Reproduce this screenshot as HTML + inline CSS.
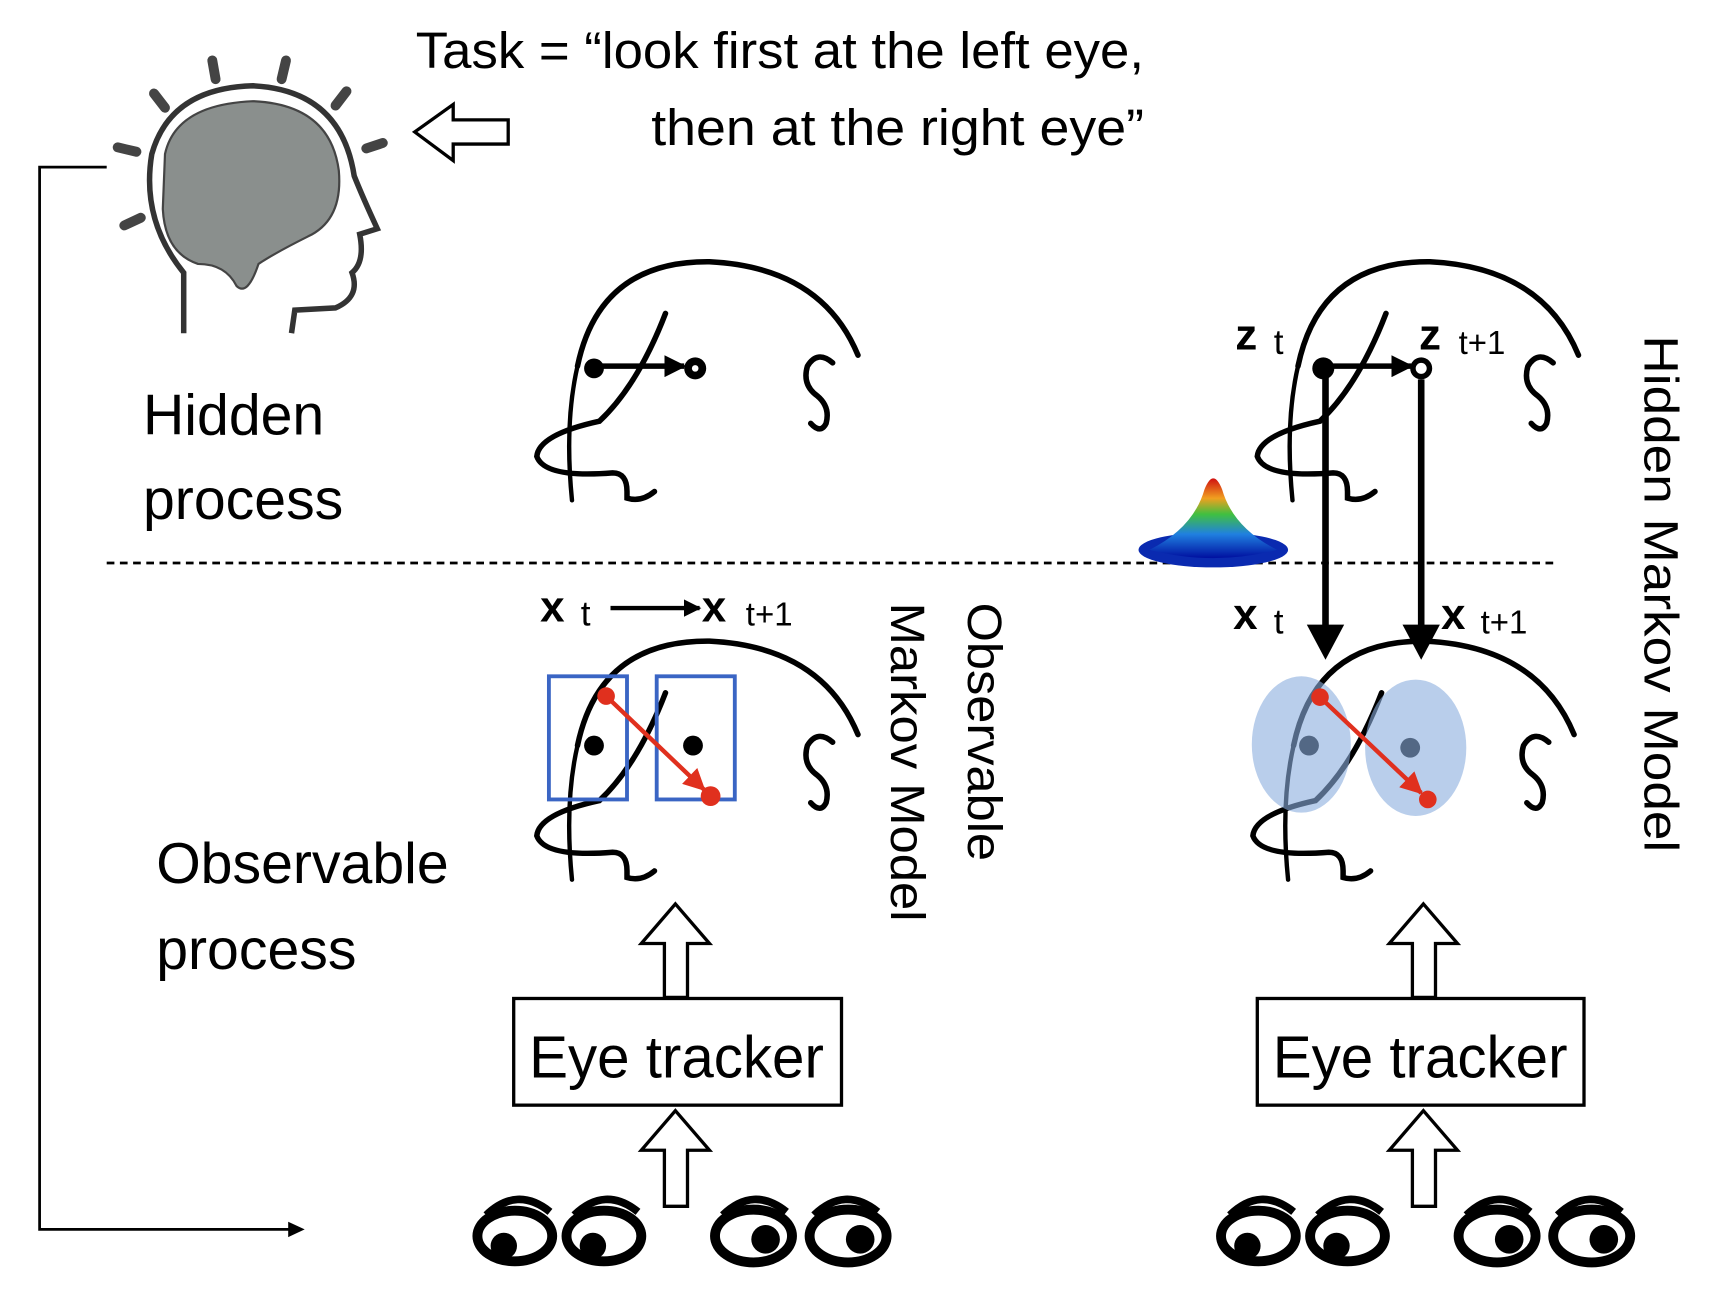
<!DOCTYPE html>
<html><head><meta charset="utf-8"><style>html,body{margin:0;padding:0;background:#fff}svg{display:block}</style></head><body>
<svg width="1716" height="1291" viewBox="0 0 1560 1174" preserveAspectRatio="none" xmlns="http://www.w3.org/2000/svg" font-family="'Liberation Sans Narrow','Liberation Sans',sans-serif">
<defs>
<g id="face" fill="none" stroke="#000" stroke-width="5" stroke-linecap="round">
<path d="M40 98 Q 60 2 160 3 Q 262 8 295 88"/>
<path d="M40 98 Q 28 150 35 220" stroke-width="4"/>
<path d="M120 50 Q 95 115 60 148 Q 5 160 3 180 Q 10 200 72 195 Q 85 195 85 212 L 85 218 Q 98 222 110 212"/>
<path d="M272 95 Q 258 83 249 98 Q 244 115 258 125 Q 270 135 266 150 Q 261 160 252 150"/>
</g>
<marker id="ah" viewBox="0 0 10 10" refX="9" refY="5" markerWidth="4" markerHeight="4" orient="auto"><path d="M0 0 L10 5 L0 10 Z" fill="#000"/></marker>
<marker id="ar" viewBox="0 0 10 10" refX="9" refY="5" markerWidth="5" markerHeight="5" orient="auto"><path d="M0 0 L10 5 L0 10 Z" fill="#e0301e"/></marker>
<linearGradient id="gg" x1="0" y1="0" x2="0" y2="1"><stop offset="0" stop-color="#d01010"/><stop offset=".25" stop-color="#f0a020"/><stop offset=".45" stop-color="#40c040"/><stop offset=".7" stop-color="#2080e0"/><stop offset="1" stop-color="#0010a0"/></linearGradient>
</defs>

<text x="378" y="62" font-size="46" textLength="662" lengthAdjust="spacingAndGlyphs">Task = “look first at the left eye,</text>
<text x="592" y="132" font-size="46" textLength="448" lengthAdjust="spacingAndGlyphs">then at the right eye”</text>
<path d="M377 120 L412 95 L412 109 L462 109 L462 131 L412 131 L412 146 Z" fill="#fff" stroke="#000" stroke-width="3"/>

<g stroke="#444" stroke-width="9" stroke-linecap="round">
<line x1="193" y1="55" x2="196" y2="72"/><line x1="260" y1="55" x2="256" y2="72"/>
<line x1="140" y1="85" x2="150" y2="98"/><line x1="315" y1="83" x2="305" y2="96"/>
<line x1="107" y1="134" x2="124" y2="138"/><line x1="333" y1="135" x2="348" y2="130"/>
<line x1="113" y1="205" x2="128" y2="198"/>
</g>
<path d="M167 303 L167 248 Q 128 200 138 140 Q 155 80 230 78 Q 310 82 322 160 Q 330 180 343 208 L 327 213 Q 332 238 320 248 Q 328 270 305 280 L 268 282 L 265 303" fill="#fff" stroke="#333" stroke-width="5"/>
<path d="M150 140 Q 160 95 230 92 Q 300 95 308 155 Q 312 200 280 215 Q 250 230 235 240 Q 225 270 215 260 Q 205 240 180 240 Q 150 230 148 190 Z" fill="#8a8f8d" stroke="#444" stroke-width="2"/>

<path d="M97 152 L36 152 L36 1118 L268 1118" fill="none" stroke="#000" stroke-width="2.5"/>
<path d="M262 1111 L277 1118 L262 1125 Z" fill="#000"/>

<text x="130" y="395" font-size="52">Hidden</text>
<text x="130" y="472" font-size="52">process</text>
<text x="142" y="803" font-size="52">Observable</text>
<text x="142" y="881" font-size="52">process</text>

<line x1="97" y1="512" x2="1415" y2="512" stroke="#000" stroke-width="2.5" stroke-dasharray="7 5"/>

<use href="#face" transform="translate(485,235)"/>
<use href="#face" transform="translate(1140,235)"/>
<use href="#face" transform="translate(485,580)"/>
<use href="#face" transform="translate(1136,580)"/>

<circle cx="540" cy="335" r="9" fill="#000"/><circle cx="632" cy="335" r="10" fill="#000"/><circle cx="632" cy="335" r="3" fill="#fff"/>
<line x1="545" y1="333" x2="622" y2="333" stroke="#000" stroke-width="5" marker-end="url(#ah)"/>

<circle cx="1203" cy="335" r="10" fill="#000"/><circle cx="1292" cy="335" r="10" fill="#000"/><circle cx="1292" cy="335" r="5" fill="#fff"/>
<line x1="1210" y1="333" x2="1283" y2="333" stroke="#000" stroke-width="5" marker-end="url(#ah)"/>
<line x1="1205" y1="340" x2="1205" y2="575" stroke="#000" stroke-width="6"/>
<path d="M1188 568 L1222 568 L1205 600 Z" fill="#000"/>
<line x1="1292" y1="345" x2="1292" y2="575" stroke="#000" stroke-width="6"/>
<path d="M1275 568 L1309 568 L1292 600 Z" fill="#000"/>
<g font-family="'Liberation Sans',sans-serif">
<text x="1123" y="318" font-size="40" font-weight="bold">z</text><text x="1158" y="322" font-size="32">t</text>
<text x="1290" y="318" font-size="40" font-weight="bold">z</text><text x="1326" y="322" font-size="30">t+1</text>
<text x="1121" y="572" font-size="40" font-weight="bold">x</text><text x="1158" y="576" font-size="32">t</text>
<text x="1310" y="572" font-size="40" font-weight="bold">x</text><text x="1346" y="576" font-size="30">t+1</text>
<text x="491" y="565" font-size="40" font-weight="bold">x</text><text x="528" y="569" font-size="32">t</text>
<text x="638" y="565" font-size="40" font-weight="bold">x</text><text x="678" y="569" font-size="30">t+1</text>
</g>
<line x1="555" y1="553" x2="636" y2="553" stroke="#000" stroke-width="4" marker-end="url(#ah)"/>

<ellipse cx="1103" cy="500" rx="68" ry="16" fill="#0a2ab0"/>
<path d="M1045 500 Q 1085 480 1095 445 Q 1103 425 1111 445 Q 1121 480 1161 500 Q 1103 515 1045 500 Z" fill="url(#gg)"/>

<circle cx="540" cy="678" r="9" fill="#000"/><circle cx="630" cy="678" r="9" fill="#000"/>
<rect x="499" y="615" width="71" height="112" fill="none" stroke="#3a65c4" stroke-width="3.5"/>
<rect x="597" y="615" width="71" height="112" fill="none" stroke="#3a65c4" stroke-width="3.5"/>
<line x1="551" y1="633" x2="640" y2="718" stroke="#e0301e" stroke-width="4" marker-end="url(#ar)"/>
<circle cx="551" cy="633" r="8" fill="#e0301e"/><circle cx="646" cy="724" r="9" fill="#e0301e"/>

<circle cx="1190" cy="678" r="9" fill="#000"/><circle cx="1282" cy="680" r="9" fill="#000"/>
<ellipse cx="1183" cy="677" rx="45" ry="62" fill="#8aaedd" fill-opacity="0.6"/>
<ellipse cx="1287" cy="680" rx="46" ry="62" fill="#8aaedd" fill-opacity="0.6"/>
<line x1="1200" y1="634" x2="1292" y2="721" stroke="#e0301e" stroke-width="4" marker-end="url(#ar)"/>
<circle cx="1200" cy="634" r="8" fill="#e0301e"/><circle cx="1298" cy="727" r="8" fill="#e0301e"/>

<text transform="translate(880,548) rotate(90)" font-size="44" font-family="'Liberation Sans',sans-serif" textLength="235" lengthAdjust="spacingAndGlyphs">Observable</text>
<text transform="translate(810,548) rotate(90)" font-size="44" font-family="'Liberation Sans',sans-serif" textLength="290" lengthAdjust="spacingAndGlyphs">Markov Model</text>
<text transform="translate(1495,305) rotate(90)" font-size="44" font-family="'Liberation Sans',sans-serif" textLength="470" lengthAdjust="spacingAndGlyphs">Hidden  Markov Model</text>

<g fill="#fff" stroke="#000" stroke-width="3">
<path d="M614 822 L645 858 L625 858 L625 907 L604 907 L604 858 L583 858 Z"/>
<path d="M614 1010 L645 1046 L625 1046 L625 1097 L604 1097 L604 1046 L583 1046 Z"/>
<path d="M1294 822 L1325 858 L1305 858 L1305 907 L1284 907 L1284 858 L1263 858 Z"/>
<path d="M1294 1010 L1325 1046 L1305 1046 L1305 1097 L1284 1097 L1284 1046 L1263 1046 Z"/>
<rect x="467" y="908" width="298" height="97"/>
<rect x="1143" y="908" width="297" height="97"/>
</g>
<text x="481" y="980" font-size="54" textLength="268" lengthAdjust="spacingAndGlyphs">Eye tracker</text>
<text x="1157" y="980" font-size="54" textLength="268" lengthAdjust="spacingAndGlyphs">Eye tracker</text>

<g fill="none" stroke="#000">
<path d="M442 1105 Q 470 1078 500 1102" stroke-width="7"/><ellipse cx="468" cy="1124" rx="34" ry="23" stroke-width="9"/>
<path d="M522 1105 Q 550 1078 580 1102" stroke-width="7"/><ellipse cx="549" cy="1124" rx="34" ry="23" stroke-width="9"/>
<path d="M657 1105 Q 685 1078 715 1102" stroke-width="7"/><ellipse cx="685" cy="1124" rx="35" ry="24" stroke-width="9"/>
<path d="M740 1105 Q 768 1078 798 1102" stroke-width="7"/><ellipse cx="771" cy="1124" rx="35" ry="24" stroke-width="9"/>
<path d="M1118 1105 Q 1146 1078 1176 1102" stroke-width="7"/><ellipse cx="1144" cy="1124" rx="34" ry="23" stroke-width="9"/>
<path d="M1198 1105 Q 1226 1078 1256 1102" stroke-width="7"/><ellipse cx="1225" cy="1124" rx="34" ry="23" stroke-width="9"/>
<path d="M1333 1105 Q 1361 1078 1391 1102" stroke-width="7"/><ellipse cx="1361" cy="1124" rx="35" ry="24" stroke-width="9"/>
<path d="M1416 1105 Q 1444 1078 1474 1102" stroke-width="7"/><ellipse cx="1447" cy="1124" rx="35" ry="24" stroke-width="9"/>
</g>
<g fill="#000">
<circle cx="458" cy="1133" r="12"/><circle cx="539" cy="1133" r="12"/>
<circle cx="696" cy="1127" r="13"/><circle cx="782" cy="1127" r="13"/>
<circle cx="1134" cy="1133" r="12"/><circle cx="1215" cy="1133" r="12"/>
<circle cx="1372" cy="1127" r="13"/><circle cx="1458" cy="1127" r="13"/>
</g>
</svg>
</body></html>
